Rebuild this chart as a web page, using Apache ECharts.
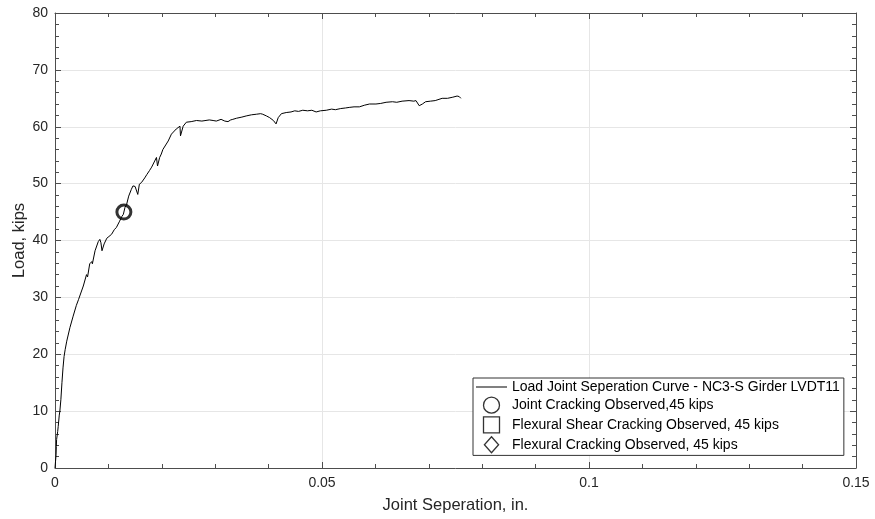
<!DOCTYPE html>
<html>
<head>
<meta charset="utf-8">
<script src="https://cdn.jsdelivr.net/npm/echarts@6/dist/echarts.min.js"></script>
<style>
  html, body { margin: 0; padding: 0; background: #fff; }
  #chart { width: 875px; height: 519px; }
</style>
</head>
<body>
<div id="chart"></div>
<script>
// Measured load vs. joint separation (LVDT11)
const jointSep = [
  0, 0.0001, 0.0002, 0.00025, 0.0003, 0.0005, 0.0006, 0.0008, 0.0009, 0.0011,
  0.0013, 0.0015, 0.0017, 0.0019, 0.0022, 0.0028, 0.0034, 0.0040, 0.0041, 0.0044,
  0.0053, 0.0059, 0.0061, 0.0065, 0.0069, 0.0070, 0.0075, 0.0081, 0.0084, 0.0086,
  0.0088, 0.0092, 0.0097, 0.0101, 0.0106, 0.0111, 0.0115, 0.0121, 0.0125, 0.0128,
  0.0131, 0.0134, 0.0138, 0.0143, 0.0146, 0.0150, 0.0153, 0.0155, 0.0158, 0.0162,
  0.0168, 0.0172, 0.0177, 0.0181, 0.0184, 0.0190, 0.0192, 0.0196, 0.0199, 0.0202,
  0.0212, 0.0218, 0.0227, 0.0234, 0.0235, 0.0240, 0.0246, 0.0255, 0.0265, 0.0275,
  0.0289, 0.0296, 0.0302, 0.0311, 0.0318, 0.0324, 0.0329, 0.0333, 0.0340, 0.0350,
  0.0358, 0.0368, 0.0377, 0.0385, 0.0389, 0.0396, 0.0402, 0.0409, 0.0414, 0.0418,
  0.0424, 0.0433, 0.0442, 0.0449, 0.0456, 0.0464, 0.0473, 0.0481, 0.0489, 0.0497,
  0.0508, 0.0518, 0.0525, 0.0535, 0.0544, 0.0551, 0.0560, 0.0570, 0.0580, 0.0589,
  0.0601, 0.0610, 0.0620, 0.0632, 0.0640, 0.0650, 0.0663, 0.0672, 0.0676, 0.0682,
  0.0688, 0.0694, 0.0703, 0.0712, 0.0725, 0.0735, 0.0745, 0.0753, 0.0757, 0.0760
];
const loadKips = [
  0, 1.2, 2.3, 3.8, 5.0, 6.4, 7.3, 9.3, 9.9, 12.0,
  15.0, 17.6, 19.6, 20.8, 22.3, 24.7, 26.7, 28.6, 28.4, 29.6,
  32.0, 34.0, 33.6, 35.9, 36.3, 35.9, 38.2, 39.8, 40.2, 39.6,
  38.2, 39.4, 40.4, 40.7, 41.1, 41.9, 42.3, 43.4, 44.2, 44.6,
  45.8, 46.3, 47.8, 49.0, 49.6, 49.5, 49.8, 48.1, 49.9, 50.2,
  51.0, 51.6, 52.3, 52.9, 52.6, 54.6, 53.1, 54.6, 55.2, 56.0,
  57.5, 58.7, 59.6, 60.1, 58.4, 60.1, 60.8, 60.9, 61.1, 61.0,
  61.2, 61.1, 61.0, 61.3, 61.0, 60.9, 61.2, 61.3, 61.5, 61.7,
  61.9, 62.1, 62.2, 62.3, 62.2, 61.9, 61.6, 61.1, 60.5, 61.6,
  62.3, 62.5, 62.6, 62.8, 62.7, 62.9, 62.8, 62.9, 62.6, 62.8,
  62.9, 63.1, 63.0, 63.2, 63.3, 63.4, 63.5, 63.5, 63.8, 64.0,
  64.0, 64.1, 64.3, 64.4, 64.3, 64.5, 64.6, 64.5, 64.6, 63.7,
  64.0, 64.4, 64.5, 64.6, 65.0, 65.0, 65.2, 65.4, 65.3, 65.0
];

// Observed cracking event: [joint separation, load]
const jointCrack = [[0.0129, 45]];
const flexShearCrack = [];
const flexCrack = [];

const seriesNames = [
  'Load Joint Seperation Curve - NC3-S Girder LVDT11',
  'Joint Cracking Observed,45 kips',
  'Flexural Shear Cracking Observed, 45 kips',
  'Flexural Cracking Observed, 45 kips'
];

const xTicks = { min: 0, max: 0.15, interval: 0.05 };
const yTicks = { min: 0, max: 80, interval: 10 };

const FONT = '"Liberation Sans", Arial, Helvetica, sans-serif';
const AXIS_COLOR = '#4d4d4d';
const TEXT_COLOR = '#262626';

function axisBase(extra) {
  return Object.assign({
    type: 'value',
    axisLine: { show: true, onZero: false, lineStyle: { color: AXIS_COLOR, width: 1 } },
    axisTick: { show: true, inside: true, length: 6, lineStyle: { color: AXIS_COLOR } },
    minorTick: { show: true, splitNumber: 5, length: 4, lineStyle: { color: AXIS_COLOR } },
    splitLine: { show: false },
    axisLabel: { show: false }
  }, extra);
}

const chart = echarts.init(document.getElementById('chart'), null, { renderer: 'canvas' });

chart.setOption({
  animation: false,
  backgroundColor: '#fff',
  grid: { left: 55, right: 19, top: 13, bottom: 51, containLabel: false, outerBoundsMode: 'none' },
  xAxis: [
    axisBase({
      position: 'bottom',
      min: xTicks.min, max: xTicks.max, interval: xTicks.interval,
      name: 'Joint Seperation, in.',
      nameLocation: 'middle',
      nameMoveOverlap: false,
      nameGap: 29,
      nameTextStyle: { fontFamily: FONT, fontSize: 16.5, color: TEXT_COLOR },
      splitLine: { show: true, lineStyle: { color: '#e6e6e6', width: 1 } },
      axisLabel: {
        show: true, fontFamily: FONT, fontSize: 14, color: TEXT_COLOR, margin: 8,
        formatter: v => String(+v.toFixed(2))
      }
    }),
    axisBase({ position: 'top', min: xTicks.min, max: xTicks.max, interval: xTicks.interval })
  ],
  yAxis: [
    axisBase({
      position: 'left',
      min: yTicks.min, max: yTicks.max, interval: yTicks.interval,
      name: 'Load, kips',
      nameLocation: 'middle',
      nameMoveOverlap: false,
      nameGap: 27,
      nameTextStyle: { fontFamily: FONT, fontSize: 16.5, color: TEXT_COLOR },
      splitLine: { show: true, lineStyle: { color: '#e6e6e6', width: 1 } },
      axisLabel: { show: true, fontFamily: FONT, fontSize: 14, color: TEXT_COLOR, margin: 7 }
    }),
    axisBase({ position: 'right', min: yTicks.min, max: yTicks.max, interval: yTicks.interval })
  ],
  legend: {
    orient: 'vertical',
    left: 473,
    top: 378,
    itemWidth: 31,
    itemHeight: 16,
    itemGap: 2.5,
    padding: [2, 4, 2, 3],
    borderColor: '#333',
    borderWidth: 1,
    backgroundColor: '#fff',
    selectedMode: false,
    symbolKeepAspect: true,
    textStyle: { fontFamily: FONT, fontSize: 14, color: '#000' },
    data: [
      { name: seriesNames[0], icon: 'path://M0,0H31V1H0Z', itemStyle: { color: '#000', borderWidth: 0 } },
      { name: seriesNames[1], icon: 'circle', itemStyle: { color: '#fff', borderColor: '#000', borderWidth: 1.3 } },
      { name: seriesNames[2], icon: 'path://M0,0H10V10H0Z', itemStyle: { color: '#fff', borderColor: '#000', borderWidth: 1.3 } },
      { name: seriesNames[3], icon: 'path://M8,0L16,9L8,18L0,9Z', itemStyle: { color: '#fff', borderColor: '#000', borderWidth: 1.3 } }
    ]
  },
  series: [
    {
      name: seriesNames[0],
      type: 'line',
      data: jointSep.map((x, i) => [x, loadKips[i]]),
      showSymbol: false,
      symbol: 'none',
      lineStyle: { color: '#000', width: 1 },
      itemStyle: { color: '#000' },
      z: 3
    },
    {
      name: seriesNames[1],
      type: 'scatter',
      data: jointCrack,
      symbol: 'circle',
      symbolSize: 14,
      itemStyle: { color: 'rgba(0,0,0,0)', borderColor: '#000', borderWidth: 3 },
      z: 4
    },
    {
      name: seriesNames[2],
      type: 'scatter',
      data: flexShearCrack,
      symbol: 'rect',
      itemStyle: { color: 'rgba(0,0,0,0)', borderColor: '#000', borderWidth: 1.5 }
    },
    {
      name: seriesNames[3],
      type: 'scatter',
      data: flexCrack,
      symbol: 'diamond',
      itemStyle: { color: 'rgba(0,0,0,0)', borderColor: '#000', borderWidth: 1.5 }
    }
  ]
});
</script>
</body>
</html>
